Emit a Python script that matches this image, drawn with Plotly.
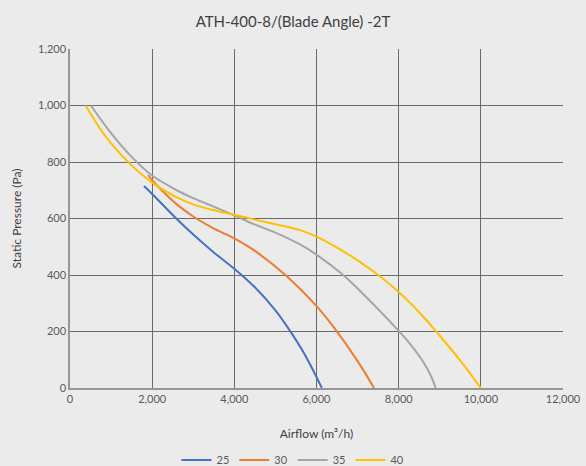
import plotly.graph_objects as go

title = "ATH-400-8/(Blade Angle) -2T"
series_names = ["25", "30", "35", "40"]
colors = ["#4472C4", "#ED7D31", "#A5A5A5", "#FFC000"]

x25 = [1800, 2000, 2600, 3000, 3500, 4000, 4476, 5000, 5282, 5700, 6130]
y25 = [715, 687, 598, 543, 480, 422, 360, 275, 218, 122, 0]

x30 = [1900, 2000, 2300, 2600, 3000, 3480, 4000, 4476, 5242, 6000, 6410, 7000, 7400]
y30 = [754, 736, 690, 650, 607, 566, 530, 488, 400, 290, 217, 95, 0]

x35 = [508, 1000, 1500, 2000, 2600, 3000, 3480, 4000, 4476, 5000, 5600, 6000, 6650, 7000, 8000, 8300, 8600, 8800, 8900]
y35 = [1000, 902, 818, 752, 700, 672, 643, 611, 580, 550, 508, 472, 400, 352, 202, 152, 92, 38, 0]

x40 = [380, 700, 1000, 1500, 2000, 2600, 3000, 3480, 4000, 4476, 5000, 5600, 6000, 6500, 7000, 7500, 8000, 8500, 9000, 9500, 10000]
y40 = [1000, 925, 866, 788, 727, 675, 650, 630, 613, 597, 580, 559, 536, 497, 452, 400, 340, 268, 185, 97, 0]

xs = [x25, x30, x35, x40]
ys = [y25, y30, y35, y40]

x_ticks = [0, 2000, 4000, 6000, 8000, 10000, 12000]
y_ticks = [0, 200, 400, 600, 800, 1000, 1200]

fig = go.Figure()
for name, c, xv, yv in zip(series_names, colors, xs, ys):
    fig.add_trace(go.Scatter(x=xv, y=yv, name=name, mode="lines",
                             line=dict(color=c, width=2, shape="spline", smoothing=1.0)))

font_family = "Lato, 'Liberation Sans', sans-serif"
fig.update_layout(
    width=586, height=466,
    paper_bgcolor="#EBEBEB", plot_bgcolor="#EBEBEB",
    margin=dict(l=70, r=23, t=49, b=78),
    font=dict(family=font_family, color="#595959", size=11),
    title=dict(text=title, x=0.5, xanchor="center", y=1 - 22/466, yanchor="middle",
               font=dict(size=15, color="#404040", family=font_family)),
    legend=dict(orientation="h", x=0.5, xanchor="center", xref="container",
                y=1 - 460/466, yanchor="middle", yref="container",
                font=dict(size=11, color="#595959"), bgcolor="rgba(0,0,0,0)",
                itemwidth=30),
    showlegend=True,
)
fig.update_xaxes(range=[0, 12000], tickvals=x_ticks, tickformat=",", showgrid=True,
                 gridcolor="#6A6A6A", gridwidth=1, showline=True, linecolor="#969696",
                 linewidth=1.5, zeroline=False, ticks="", mirror=False, automargin=False,
                 title=dict(text="Airflow (m³/h)", font=dict(size=12, color="#404040"), standoff=26),
                 tickfont=dict(size=11, color="#595959"))
fig.update_yaxes(range=[0, 1200], tickvals=y_ticks, tickformat=",", showgrid=True,
                 gridcolor="#6A6A6A", gridwidth=1, showline=True, linecolor="#969696",
                 linewidth=1.5, zeroline=False, ticks="", automargin=False,
                 title=dict(text="Static Pressure (Pa)", font=dict(size=12, color="#404040"), standoff=14),
                 tickfont=dict(size=11, color="#595959"))

fig.write_html("out.html", config={"displayModeBar": False},
               post_script="document.body.style.margin='0';document.body.style.padding='0';")
